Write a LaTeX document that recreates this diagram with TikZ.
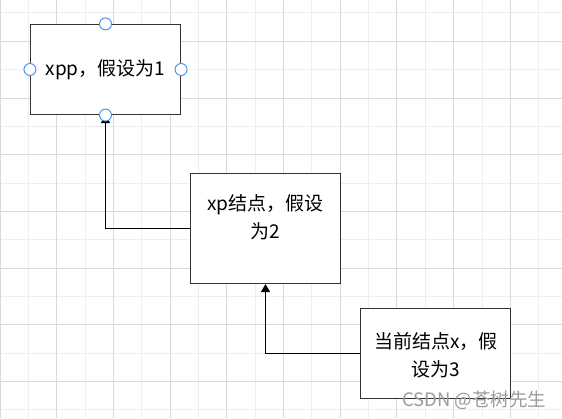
\documentclass[tikz,border=0pt]{standalone}
\usepackage{fontspec}
\setmainfont{Noto Sans CJK SC}
\usetikzlibrary{arrows.meta,positioning}
\definecolor{gridminor}{HTML}{EEEEEE}
\definecolor{gridmajor}{HTML}{DADADA}
\definecolor{edge}{HTML}{333333}
\definecolor{handleblue}{HTML}{3D8EF0}
\definecolor{wmgray}{HTML}{9C9C9C}
\tikzset{
  gminor/.style={draw=gridminor, line width=0.9pt},
  gmajor/.style={draw=gridmajor, line width=0.9pt},
  box/.style={draw=edge, line width=1.1pt, fill=white, inner sep=0pt},
  lbl/.style={font=\fontsize{19}{28}\selectfont, align=center, inner sep=0pt, text=black},
  link/.style={draw=black, line width=1.2pt, -{Triangle[length=8pt,width=9pt]}},
  handle/.style={circle, draw=handleblue, line width=0.9pt, fill=white, minimum size=12pt, inner sep=0pt},
  wm/.style={font=\fontsize{18.5}{20}\selectfont, text=wmgray, inner sep=0pt},
}
\begin{document}
\begin{tikzpicture}[x=1pt,y=-1pt]
  \useasboundingbox (0,0) rectangle (562,418);
  \fill[white] (0,0) rectangle (562,418);

  % background grid
  \foreach \i in {0,...,20}
    \draw[gminor] ({28.35*\i},0) -- ({28.35*\i},418);
  \foreach \j in {0,...,14}
    \draw[gminor] (0,{12.9+28.35*\j}) -- (562,{12.9+28.35*\j});
  \foreach \i in {0,...,9}
    \draw[gmajor] ({56.7*\i},0) -- ({56.7*\i},418);
  \foreach \j in {0,...,6}
    \draw[gmajor] (0,{41.25+56.7*\j}) -- (562,{41.25+56.7*\j});

  \node[box, minimum width=150pt, minimum height=90pt] (xpp) at (105.5,69.5) {};
  \node[box, minimum width=150pt, minimum height=110pt] (xp) at (265.5,228.5) {};
  \node[box, minimum width=150pt, minimum height=90pt] (cur) at (435.5,353.5) {};

  \node[lbl] (xpptext) at (xpp) {xpp，假设为1};
  \node[lbl] (xptext) at (265.3,217) {xp结点，假设\\为2};
  \node[lbl] (curtext) at (435.8,355.5) {当前结点x，假\\设为3};

  \draw[link] (xp.west) -| (xpp.south);
  \draw[link] (cur.west) -| (xp.south);

  \foreach \a in {north,west,east,south}
    \node[handle] (h-\a) at (xpp.\a) {};

  \node[wm, anchor=west] (csdn) at (402,400) {CSDN @苍树先生};
\end{tikzpicture}
\end{document}
